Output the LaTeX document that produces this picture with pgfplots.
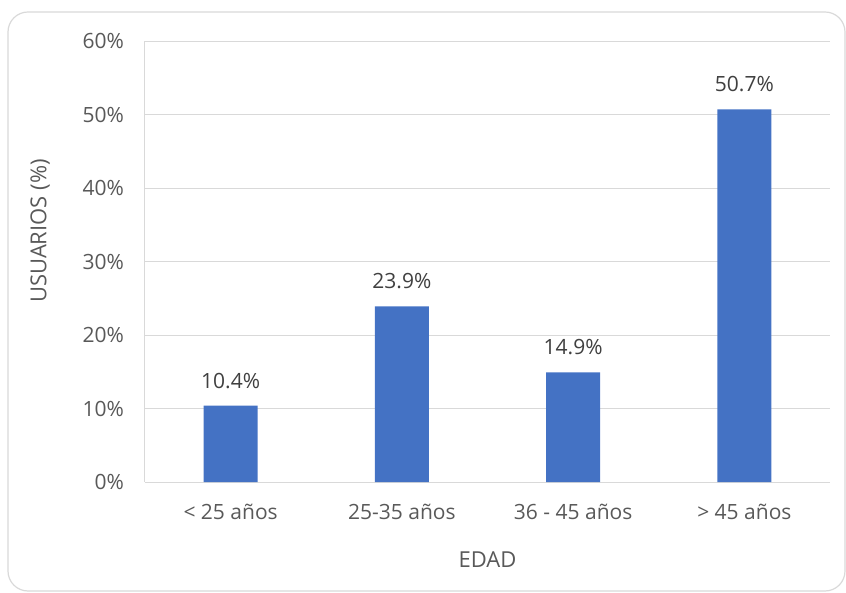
\documentclass[border=0pt]{standalone}
\usepackage{pgfplots}
\pgfplotsset{compat=1.18}
\usepackage{fontspec}
\setmainfont{Open Sans}
\definecolor{barblue}{HTML}{4472C4}
\definecolor{txt}{HTML}{595959}
\definecolor{lbl}{HTML}{404040}
\definecolor{gridc}{HTML}{D9D9D9}
\begin{document}
\fontsize{20.5}{24}\selectfont
\begin{tikzpicture}[x=1pt,y=1pt]
\path[use as bounding box] (-145,-110) rectangle (701,482);
\draw[gridc, line width=1.2pt, rounded corners=20pt] (-137,-109) rectangle (700,470);
\begin{axis}[
  at={(0,0)}, anchor=south west,
  scale only axis, width=685pt, height=441pt,
  ymin=0, ymax=60, xmin=-0.5, xmax=3.5,
  ytick={0,10,...,60},
  yticklabel={\pgfmathprintnumber{\tick}\%},
  /pgf/number format/assume math mode=true,
  xtick={0,1,2,3},
  xticklabels={< 25 años, 25-35 años, 36 - 45 años, > 45 años},
  major tick length=0pt,
  ymajorgrids, grid style={gridc, line width=1pt},
  axis line style={gridc, line width=1pt},
  axis x line*=bottom, axis y line*=left,
  tick label style={txt, font=\fontsize{21}{24}\selectfont},
  yticklabel style={xshift=-14pt},
  xticklabel style={yshift=-15pt},
  xlabel={EDAD}, ylabel={USUARIOS (\%)},
  label style={txt, font=\fontsize{22}{26}\selectfont},
  xlabel style={at={(axis description cs:0.5,-0.177)}, anchor=center},
  ylabel style={at={(axis description cs:-0.153,0.569)}, anchor=center},
  ybar, bar width=54pt,
  nodes near coords={\pgfmathprintnumber[fixed, fixed zerofill, precision=1]{\pgfplotspointmeta}\%},
  nodes near coords style={lbl, font=\fontsize{21}{24}\selectfont, anchor=south, inner sep=0pt, yshift=17pt},
  /pgf/number format/.cd, use period,
]
\addplot[fill=barblue, draw=none] coordinates {(0,10.4) (1,23.9) (2,14.9) (3,50.7)};
\end{axis}
\end{tikzpicture}
\end{document}
